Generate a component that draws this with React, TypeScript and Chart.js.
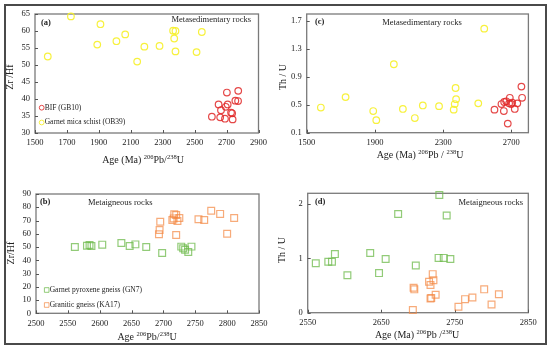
import React, { useEffect, useRef } from "react";
import { Chart, registerables } from "chart.js";
Chart.register(...registerables);

const FONT = "'Liberation Serif', 'Times New Roman', Times, serif";

// ---------- Panel (a): Zr/Hf vs age, metasedimentary ----------
const aSchistAge = [1580, 1725, 1890, 1910, 2010, 2065, 2140, 2185, 2280, 2365, 2380, 2372, 2380, 2512, 2545];
const aSchistZrHf = [52.5, 64.3, 56, 62, 57, 59, 51, 55.4, 55.6, 60.1, 60, 57.8, 54, 53.8, 59.7];
const aBifAge = [2608, 2650, 2665, 2660, 2690, 2695, 2702, 2707, 2728, 2735, 2738, 2755, 2772, 2773];
const aBifZrHf = [34.8, 38.4, 36.7, 34.6, 34.2, 37.7, 41.9, 38.4, 36, 35.8, 34.0, 39.5, 39.4, 42.4];
const aXTicks = [1500, 1700, 1900, 2100, 2300, 2500, 2700, 2900];
const aYTicks = [30, 35, 40, 45, 50, 55, 60, 65];

// ---------- Panel (c): Th/U vs age, metasedimentary ----------
const cSchistAge = [1583, 1728, 1890, 1908, 2011, 2064, 2134, 2181, 2276, 2362, 2368, 2376, 2373, 2506, 2541];
const cSchistThU = [0.46, 0.61, 0.41, 0.28, 1.08, 0.44, 0.31, 0.49, 0.48, 0.43, 0.51, 0.58, 0.74, 0.52, 1.59];
const cBifAge = [2601, 2642, 2656, 2658, 2670, 2679, 2687, 2691, 2699, 2705, 2720, 2735, 2759, 2763];
const cBifThU = [0.43, 0.51, 0.41, 0.54, 0.55, 0.23, 0.52, 0.6, 0.51, 0.53, 0.44, 0.52, 0.76, 0.6];
const cXTicks = [1500, 1900, 2300, 2700];
const cYTicks = [0.1, 0.5, 0.9, 1.3, 1.7];

// ---------- Panel (b): Zr/Hf vs age, metaigneous ----------
const bGneissAge = [2561, 2580, 2584, 2587, 2604, 2634, 2647, 2656, 2673, 2698, 2728, 2731, 2734, 2739, 2744];
const bGneissZrHf = [50, 51, 51.5, 50.8, 51.8, 53, 50.8, 52, 50, 45.5, 50.3, 49, 48, 46.2, 50.3];
const bGraniteAge = [2693, 2694, 2695, 2714, 2716, 2717, 2720, 2722, 2725, 2720, 2755, 2764, 2775, 2789, 2800, 2811];
const bGraniteZrHf = [59.6, 62.8, 69.1, 70.4, 71.6, 74.7, 74.2, 69.6, 71.9, 59.1, 70.9, 70.4, 77.4, 75.0, 60.0, 71.9];
const bXTicks = [2500, 2550, 2600, 2650, 2700, 2750, 2800, 2850];
const bYTicks = [0, 10, 20, 30, 40, 50, 60, 70, 80, 90];

// ---------- Panel (d): Th/U vs age, metaigneous ----------
const dGneissAge = [2561, 2578, 2583, 2587, 2604, 2635, 2647, 2656, 2673, 2697, 2728, 2729, 2735, 2739, 2744];
const dGneissThU = [0.91, 0.94, 0.94, 1.08, 0.69, 1.1, 0.73, 0.99, 1.82, 0.87, 1.01, 2.17, 1.01, 1.79, 0.99];
const dGraniteAge = [2693, 2694, 2695, 2715, 2717, 2718, 2717, 2720, 2721, 2724, 2755, 2764, 2774, 2790, 2800, 2810];
const dGraniteThU = [0.05, 0.46, 0.43, 0.57, 0.51, 0.27, 0.26, 0.71, 0.6, 0.33, 0.11, 0.25, 0.28, 0.43, 0.15, 0.34];
const dXTicks = [2550, 2650, 2750, 2850];
const dYTicks = [0, 1, 2];

const RED = "rgba(225,40,40,0.85)";
const YELLOW = "rgba(246,240,40,0.9)";
const GREEN = "rgba(110,185,75,0.75)";
const ORANGE = "rgba(243,135,65,0.7)";

type Run = { t: string; sup?: boolean };
type LegendItem = { label: string; color: string; shape: "circle" | "rect"; x: number; y: number };
type Series = { label: string; xs: number[]; ys: number[]; color: string; shape: "circle" | "rect" };
type PanelSpec = {
  x: number; y: number; w: number; h: number;
  area: { left: number; top: number; right: number; bottom: number };
  xMin: number; xMax: number; yMin: number; yMax: number;
  xTicks: number[]; yTicks: number[]; yDecimals: number;
  series: Series[];
  tag: string; tagX: number; tagY: number;
  note: string; noteX: number; noteY: number; noteAlign: CanvasTextAlign;
  yTitle: string; yTitleX: number; yTitleY: number;
  xTitle: Run[]; xTitleX: number; xTitleY: number;
  legend: LegendItem[];
};

const sup = (t: string): Run => ({ t, sup: true });
const txt = (t: string): Run => ({ t });

const panels: PanelSpec[] = [
  {
    x: 0, y: 0, w: 272, h: 172,
    area: { left: 35, top: 14, right: 258.5, bottom: 133 },
    xMin: 1500, xMax: 2900, yMin: 30, yMax: 65, xTicks: aXTicks, yTicks: aYTicks, yDecimals: 0,
    series: [
      { label: "BIF (GB10)", xs: aBifAge, ys: aBifZrHf, color: RED, shape: "circle" },
      { label: "Garnet mica schist (OB39)", xs: aSchistAge, ys: aSchistZrHf, color: YELLOW, shape: "circle" },
    ],
    tag: "(a)", tagX: 41, tagY: 23,
    note: "Metasedimentary rocks", noteX: 251, noteY: 20, noteAlign: "right",
    yTitle: "Zr /Hf", yTitleX: 10, yTitleY: 77,
    xTitle: [txt("Age (Ma) "), sup("206"), txt("Pb/"), sup("238"), txt("U")], xTitleX: 143, xTitleY: 160,
    legend: [
      { label: "BIF (GB10)", color: RED, shape: "circle", x: 41.7, y: 107.7 },
      { label: "Garnet mica schist (OB39)", color: YELLOW, shape: "circle", x: 41.7, y: 122.5 },
    ],
  },
  {
    x: 272, y: 0, w: 278, h: 172,
    area: { left: 34.7, top: 14, right: 256.4, bottom: 132.7 },
    xMin: 1500, xMax: 2800, yMin: 0.1, yMax: 1.8, xTicks: cXTicks, yTicks: cYTicks, yDecimals: 1,
    series: [
      { label: "Garnet mica schist (OB39)", xs: cSchistAge, ys: cSchistThU, color: YELLOW, shape: "circle" },
      { label: "BIF (GB10)", xs: cBifAge, ys: cBifThU, color: RED, shape: "circle" },
    ],
    tag: "(c)", tagX: 43, tagY: 22,
    note: "Metasedimentary rocks", noteX: 150, noteY: 23, noteAlign: "center",
    yTitle: "Th / U", yTitleX: 11, yTitleY: 77,
    xTitle: [txt("Age (Ma) "), sup("206"), txt("Pb / "), sup("238"), txt("U")], xTitleX: 148, xTitleY: 155,
    legend: [],
  },
  {
    x: 0, y: 172, w: 272, h: 179,
    area: { left: 36, top: 22, right: 259, bottom: 141.3 },
    xMin: 2500, xMax: 2850, yMin: 0, yMax: 90, xTicks: bXTicks, yTicks: bYTicks, yDecimals: 0,
    series: [
      { label: "Garnet pyroxene gneiss (GN7)", xs: bGneissAge, ys: bGneissZrHf, color: GREEN, shape: "rect" },
      { label: "Granitic gneiss (KA17)", xs: bGraniteAge, ys: bGraniteZrHf, color: ORANGE, shape: "rect" },
    ],
    tag: "(b)", tagX: 40, tagY: 30,
    note: "Metaigneous rocks", noteX: 88, noteY: 31, noteAlign: "left",
    yTitle: "Zr/Hf", yTitleX: 11, yTitleY: 81,
    xTitle: [txt("Age "), sup("206"), txt("Pb/"), sup("238"), txt("U")], xTitleX: 147, xTitleY: 165,
    legend: [
      { label: "Garnet pyroxene gneiss (GN7)", color: GREEN, shape: "rect", x: 46.7, y: 118 },
      { label: "Granitic gneiss (KA17)", color: ORANGE, shape: "rect", x: 46.7, y: 133 },
    ],
  },
  {
    x: 272, y: 172, w: 278, h: 179,
    area: { left: 35.7, top: 21.3, right: 256.3, bottom: 140.7 },
    xMin: 2550, xMax: 2850, yMin: 0, yMax: 2.2, xTicks: dXTicks, yTicks: dYTicks, yDecimals: 0,
    series: [
      { label: "Garnet pyroxene gneiss (GN7)", xs: dGneissAge, ys: dGneissThU, color: GREEN, shape: "rect" },
      { label: "Granitic gneiss (KA17)", xs: dGraniteAge, ys: dGraniteThU, color: ORANGE, shape: "rect" },
    ],
    tag: "(d)", tagX: 43, tagY: 30,
    note: "Metaigneous rocks", noteX: 251, noteY: 31, noteAlign: "right",
    yTitle: "Th / U", yTitleX: 10, yTitleY: 78,
    xTitle: [txt("Age (Ma) "), sup("206"), txt("Pb /"), sup("238"), txt("U")], xTitleX: 145, xTitleY: 163,
    legend: [],
  },
];

function drawRich(ctx: CanvasRenderingContext2D, runs: Run[], cx: number, cy: number, size: number) {
  const supSize = size * 0.65;
  const widths = runs.map((r) => {
    ctx.font = `${r.sup ? supSize : size}px ${FONT}`;
    return ctx.measureText(r.t).width;
  });
  const total = widths.reduce((a, b) => a + b, 0);
  let x = cx - total / 2;
  ctx.textAlign = "left";
  ctx.textBaseline = "alphabetic";
  runs.forEach((r, i) => {
    ctx.font = `${r.sup ? supSize : size}px ${FONT}`;
    ctx.fillText(r.t, x, cy + size * 0.33 - (r.sup ? size * 0.42 : 0));
    x += widths[i];
  });
}

function buildConfig(p: PanelSpec): any {
  const decor = {
    id: "decor",
    beforeDatasetsDraw(chart: any) {
      const ctx: CanvasRenderingContext2D = chart.ctx;
      const a = chart.chartArea;
      const xs = chart.scales.x;
      const ys = chart.scales.y;
      ctx.save();
      ctx.strokeStyle = "#7a7a7a";
      ctx.lineWidth = 1.3;
      ctx.strokeRect(a.left, a.top, a.right - a.left, a.bottom - a.top);
      ctx.strokeStyle = "#555";
      ctx.lineWidth = 1;
      ctx.beginPath();
      xs.ticks.forEach((t: any) => {
        const px = Math.round(xs.getPixelForValue(t.value)) + 0.5;
        ctx.moveTo(px, a.bottom);
        ctx.lineTo(px, a.bottom - 3);
      });
      ys.ticks.forEach((t: any) => {
        const py = Math.round(ys.getPixelForValue(t.value)) + 0.5;
        ctx.moveTo(a.left, py);
        ctx.lineTo(a.left + 3, py);
      });
      ctx.stroke();
      ctx.restore();
    },
    afterDraw(chart: any) {
      const ctx: CanvasRenderingContext2D = chart.ctx;
      ctx.save();
      ctx.fillStyle = "#222";
      ctx.textBaseline = "middle";
      ctx.font = `bold 8.5px ${FONT}`;
      ctx.textAlign = "left";
      ctx.fillText(p.tag, p.tagX, p.tagY);
      ctx.font = `8.5px ${FONT}`;
      ctx.textAlign = p.noteAlign;
      ctx.fillText(p.note, p.noteX, p.noteY);
      // legend
      p.legend.forEach((l) => {
        ctx.strokeStyle = l.color;
        ctx.lineWidth = 1;
        ctx.beginPath();
        if (l.shape === "circle") ctx.arc(l.x, l.y, 2.4, 0, Math.PI * 2);
        else ctx.rect(l.x - 2.3, l.y - 2.3, 4.6, 4.6);
        ctx.stroke();
        ctx.fillStyle = "#222";
        ctx.font = `7.5px ${FONT}`;
        ctx.textAlign = "left";
        ctx.fillText(l.label, l.x + 3, l.y);
      });
      // y title
      ctx.save();
      ctx.translate(p.yTitleX, p.yTitleY);
      ctx.rotate(-Math.PI / 2);
      ctx.font = `10px ${FONT}`;
      ctx.textAlign = "center";
      ctx.fillStyle = "#222";
      ctx.fillText(p.yTitle, 0, 0);
      ctx.restore();
      ctx.fillStyle = "#222";
      drawRich(ctx, p.xTitle, p.xTitleX, p.xTitleY, 10);
      ctx.restore();
    },
  };

  return {
    type: "scatter",
    data: {
      datasets: p.series.map((s) => ({
        label: s.label,
        data: s.xs.map((x, i) => ({ x, y: s.ys[i] })),
        pointStyle: s.shape,
        pointRadius: s.shape === "circle" ? 3.3 : 4.8,
        borderColor: s.color,
        backgroundColor: "rgba(0,0,0,0)",
        pointBorderWidth: 1.2,
        showLine: false,
        clip: false,
      })),
    },
    options: {
      animation: false,
      responsive: false,
      maintainAspectRatio: false,
      events: [],
      layout: { padding: { left: 0, top: p.area.top, right: p.w - p.area.right, bottom: 0 } },
      plugins: { legend: { display: false }, tooltip: { enabled: false }, title: { display: false } },
      scales: {
        x: {
          type: "linear",
          min: p.xMin,
          max: p.xMax,
          grid: { display: false, drawTicks: false },
          border: { display: false },
          ticks: {
            font: { family: FONT, size: 8.5 },
            color: "#222",
            padding: 5,
            maxRotation: 0,
            autoSkip: false,
            callback: (v: any) => String(Math.round(Number(v))),
          },
          afterBuildTicks: (s: any) => {
            s.ticks = p.xTicks.map((v) => ({ value: v }));
          },
          afterFit: (s: any) => {
            s.height = p.h - p.area.bottom;
            s.paddingLeft = 0;
            s.paddingRight = 0;
          },
        },
        y: {
          type: "linear",
          min: p.yMin,
          max: p.yMax,
          grid: { display: false, drawTicks: false },
          border: { display: false },
          ticks: {
            font: { family: FONT, size: 8.5 },
            color: "#222",
            padding: 5,
            autoSkip: false,
            callback: (v: any) => Number(v).toFixed(p.yDecimals),
          },
          afterBuildTicks: (s: any) => {
            s.ticks = p.yTicks.map((v) => ({ value: v }));
          },
          afterFit: (s: any) => {
            s.width = p.area.left;
            s.paddingTop = 0;
            s.paddingBottom = 0;
          },
        },
      },
    },
    plugins: [decor],
  };
}

function Panel({ spec }: { spec: PanelSpec }) {
  const ref = useRef<HTMLCanvasElement>(null);
  useEffect(() => {
    const chart = new Chart(ref.current as HTMLCanvasElement, buildConfig(spec));
    return () => chart.destroy();
  }, [spec]);
  return (
    <canvas
      ref={ref}
      width={spec.w}
      height={spec.h}
      style={{ position: "absolute", left: spec.x, top: spec.y, width: spec.w, height: spec.h }}
    />
  );
}

export default function App() {
  return (
    <div style={{ position: "fixed", left: 0, top: 0, width: 550, height: 351, background: "#fff", overflow: "hidden" }}>
      {panels.map((p, i) => (
        <Panel key={i} spec={p} />
      ))}
      <div
        style={{
          position: "absolute",
          left: 4,
          top: 4,
          width: 539,
          height: 337,
          border: "2px solid #4a4a4a",
          pointerEvents: "none",
        }}
      />
    </div>
  );
}
